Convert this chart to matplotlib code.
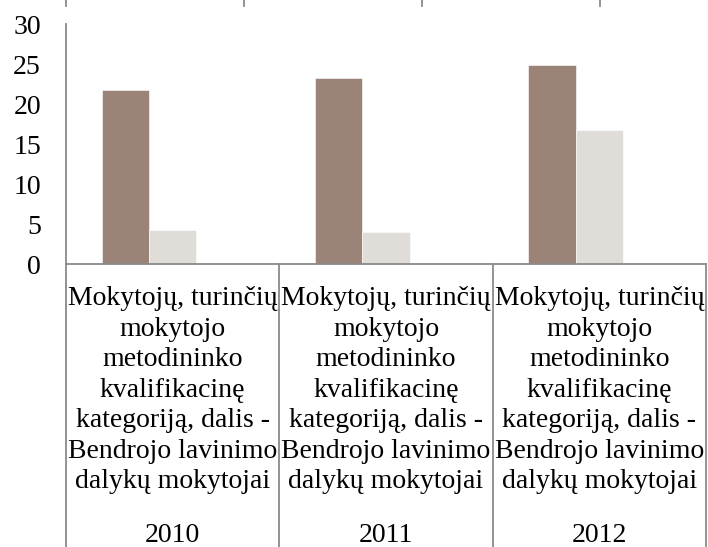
import numpy as np
import matplotlib
matplotlib.use("Agg")
import matplotlib.pyplot as plt
import matplotlib.transforms as mtransforms

# data
years = ["2010", "2011", "2012"]
category = ("Mokytojų, turinčių\nmokytojo\nmetodininko\nkvalifikacinę\n"
            "kategoriją, dalis -\nBendrojo lavinimo\ndalykų mokytojai")
series_a = [21.8, 23.2, 24.9]
series_b = [4.3, 4.0, 16.8]
yticks = [0, 5, 10, 15, 20, 25, 30]

col_a = "#9b8477"
col_b = "#e0dcd8"
grey = "#8a8a8a"

plt.rcParams["font.family"] = ["Liberation Serif", "DejaVu Serif"]

W, H = 708, 547
fig = plt.figure(figsize=(W / 100, H / 100), dpi=100)
ax = fig.add_axes([66 / W, (H - 264) / H, 640 / W, 240 / H])

x = np.arange(len(years))
bw = 1 / 4.5
ax.bar(x - bw, series_a, width=bw, color=col_a, edgecolor="white", linewidth=0.4)
ax.bar(x, series_b, width=bw, color=col_b, edgecolor="white", linewidth=0.4)

ax.set_xlim(-0.5, 2.5)
ax.set_ylim(0, 30)
ax.set_yticks(yticks)
ax.set_yticklabels([str(v) for v in yticks], fontsize=20)
ax.tick_params(axis="y", length=0, pad=18)
ax.set_xticks([])

for s in ["top", "right"]:
    ax.spines[s].set_visible(False)
for s in ["left", "bottom"]:
    ax.spines[s].set_color(grey)
    ax.spines[s].set_linewidth(1.3)

# multi-level category axis: dividers and labels
tr = mtransforms.blended_transform_factory(ax.transData, ax.transAxes)
bottom = -(H - 264) / 240
for xd in [-0.5, 0.5, 1.5, 2.5]:
    ax.plot([xd, xd], [0, bottom], transform=tr, color=grey, lw=1.3,
            clip_on=False)

for i, yr in enumerate(years):
    ax.text(i, -(286 - 264) / 240, category, transform=tr, ha="center",
            va="top", fontsize=20, linespacing=1.29, multialignment="center")
    ax.text(i, -(535 - 264) / 240, yr, transform=tr, ha="center",
            va="center", fontsize=20)

# stubs of the element above
for px in [66, 244, 422, 600]:
    fig.add_artist(plt.Line2D([px / W, px / W], [1, 1 - 6 / H],
                              transform=fig.transFigure, color=grey, lw=1.3))

fig.savefig("out.png", dpi=100)
